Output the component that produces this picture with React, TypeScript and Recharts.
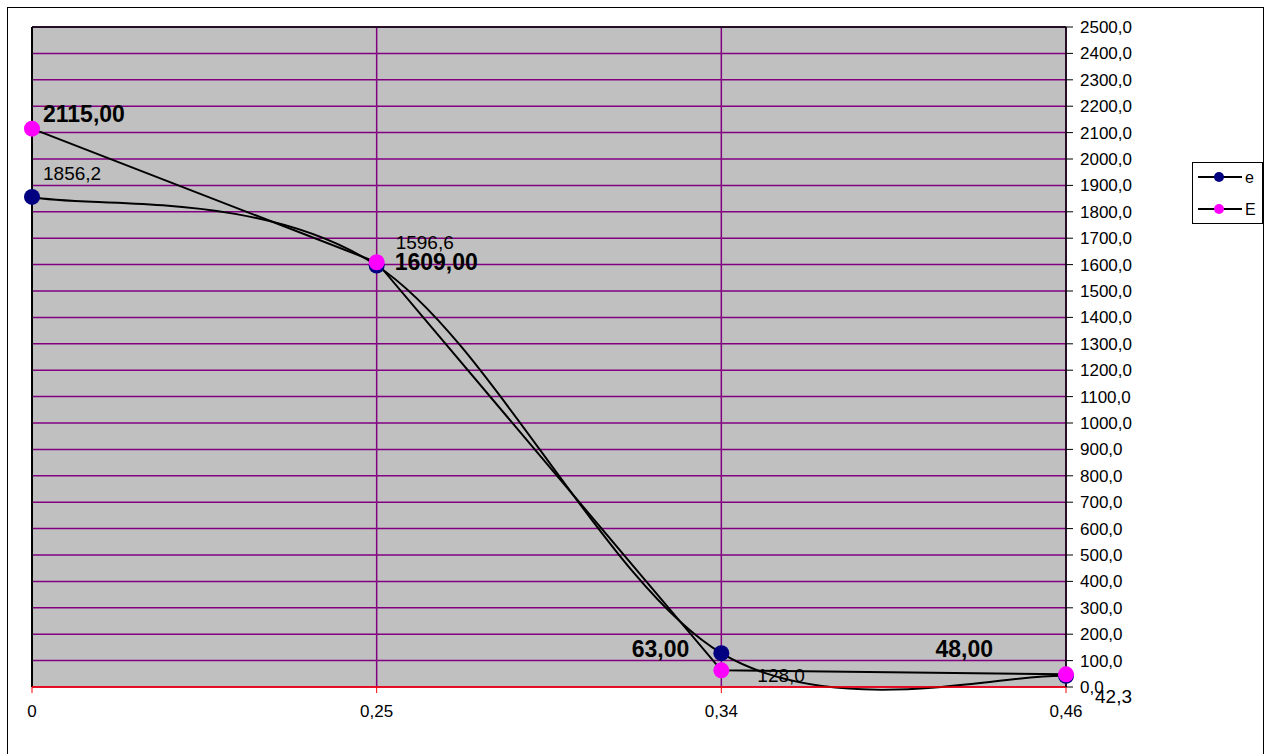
import React from 'react';
import { LineChart, Line, XAxis, YAxis, CartesianGrid, ReferenceLine, LabelList } from 'recharts';

const categories = ['0', '0,25', '0,34', '0,46'];
const eValues = [1856.2, 1596.6, 128.0, 42.3];
const EValues = [2115.0, 1609.0, 63.0, 48.0];
const yTicks = [0, 100, 200, 300, 400, 500, 600, 700, 800, 900, 1000, 1100, 1200, 1300, 1400, 1500, 1600, 1700, 1800, 1900, 2000, 2100, 2200, 2300, 2400, 2500];
const seriesNames = ['e', 'E'];

const data = categories.map((c, i) => ({ cat: c, e: eValues[i], E: EValues[i] }));

// label styling offsets (dx, dy, anchor) relative to each point
const eLabelStyle: [number, number, string][] = [[11, -17, 'start'], [19, -16, 'start'], [36, 29, 'start'], [29, 27, 'start']];
const ELabelStyle: [number, number, string][] = [[11, -7, 'start'], [18, 8, 'start'], [-32, -13, 'end'], [-73, -17, 'end']];

const FONT = '"Liberation Sans", Arial, sans-serif';
const NAVY = '#000080';
const MAGENTA = '#FF00FF';
const PURPLE = '#800080';

// Excel-like smoothed line (Catmull-Rom style Bezier)
function excelSmooth(context: any) {
  let pts: number[][] = [];
  const f = 1 / 6;
  return {
    areaStart() {},
    areaEnd() {},
    lineStart() { pts = []; },
    lineEnd() {
      const n = pts.length;
      if (!n) return;
      context.moveTo(pts[0][0], pts[0][1]);
      for (let i = 0; i < n - 1; i++) {
        const p0 = pts[i - 1] || pts[i];
        const p1 = pts[i];
        const p2 = pts[i + 1];
        const p3 = pts[i + 2] || pts[i + 1];
        const c1x = p1[0] + (p2[0] - p0[0]) * f;
        const c1y = p1[1] + (p2[1] - p0[1]) * f;
        const c2x = p2[0] - (p3[0] - p1[0]) * f;
        const c2y = p2[1] - (p3[1] - p1[1]) * f;
        context.bezierCurveTo(c1x, c1y, c2x, c2y, p2[0], p2[1]);
      }
    },
    point(x: number, y: number) { pts.push([+x, +y]); },
  };
}

const makeLabel = (styles: [number, number, string][], bold: boolean, digits: number) => (props: any) => {
  const idx = props.index ?? 0;
  const x = props.x ?? props.viewBox?.x;
  const y = props.y ?? props.viewBox?.y;
  const v = Number(props.value);
  const [dx, dy, anchor] = styles[idx] || [0, 0, 'start'];
  return (
    <text x={x + dx} y={y + dy} textAnchor={anchor as any} fontFamily={FONT}
      fontSize={bold ? 23 : 19} fontWeight={bold ? 'bold' : 'normal'} fill="#000">
      {v.toFixed(digits).replace('.', ',')}
    </text>
  );
};

const LegendBox = () => (
  <svg width={71} height={62} style={{ display: 'block' }}>
    <rect x={0.5} y={0.5} width={70} height={61} fill="#fff" stroke="#000" strokeWidth={1} />
    {seriesNames.map((n, i) => {
      const cy = 15 + i * 32;
      return (
        <g key={n}>
          <line x1={6} x2={50} y1={cy} y2={cy} stroke="#000" strokeWidth={2} />
          <circle cx={27} cy={cy} r={5} fill={i === 0 ? NAVY : MAGENTA} />
          <text x={53} y={cy + 6} fontFamily={FONT} fontSize={16} fill="#000">{n}</text>
        </g>
      );
    })}
  </svg>
);

export default function App() {
  return (
    <div style={{ position: 'absolute', left: 0, top: 0, width: 1272, height: 754, overflow: 'hidden', background: '#fff' }}>
      <div style={{ position: 'absolute', left: 7, top: 7, width: 1257, height: 800, border: '1px solid #000', boxSizing: 'border-box' }} />
      <div style={{ position: 'absolute', left: 0, top: 0 }}>
        <LineChart width={1272} height={754} data={data} margin={{ top: 27, left: 32, right: 136, bottom: 37 }}>
          <CartesianGrid fill="#C0C0C0" stroke={PURPLE} strokeWidth={1.5} horizontal vertical fillOpacity={1} />
          <XAxis dataKey="cat" height={30} interval={0} tickSize={6} tickMargin={12}
            axisLine={{ stroke: '#FF0000', strokeWidth: 1.5 }} tickLine={{ stroke: '#FF0000' }}
            tick={{ fontFamily: FONT, fontSize: 17, fill: '#000' }} />
          <YAxis orientation="right" width={70} domain={[0, 2500]} ticks={yTicks} interval={0}
            tickSize={7} tickMargin={7} axisLine={{ stroke: '#000', strokeWidth: 1.5 }} tickLine={{ stroke: '#000' }}
            tick={{ fontFamily: FONT, fontSize: 17, fill: '#000', textAnchor: 'start' }}
            tickFormatter={(v: number) => v.toFixed(1).replace('.', ',')} />
          <ReferenceLine y={2500} stroke="#000" strokeWidth={1.5} />
          <ReferenceLine x="0" stroke="#000" strokeWidth={2} />
          <Line dataKey="e" name="e" type={excelSmooth as any} stroke="#000" strokeWidth={2} isAnimationActive={false}
            dot={{ r: 8, fill: NAVY, stroke: NAVY, strokeWidth: 0 }} activeDot={false}>
            <LabelList dataKey="e" content={makeLabel(eLabelStyle, false, 1)} />
          </Line>
          <Line dataKey="E" name="E" type="linear" stroke="#000" strokeWidth={2} isAnimationActive={false}
            dot={{ r: 8, fill: MAGENTA, stroke: MAGENTA, strokeWidth: 0 }} activeDot={false}>
            <LabelList dataKey="E" content={makeLabel(ELabelStyle, true, 2)} />
          </Line>
        </LineChart>
      </div>
      <div style={{ position: 'absolute', left: 1192, top: 162 }}>
        <LegendBox />
      </div>
    </div>
  );
}
